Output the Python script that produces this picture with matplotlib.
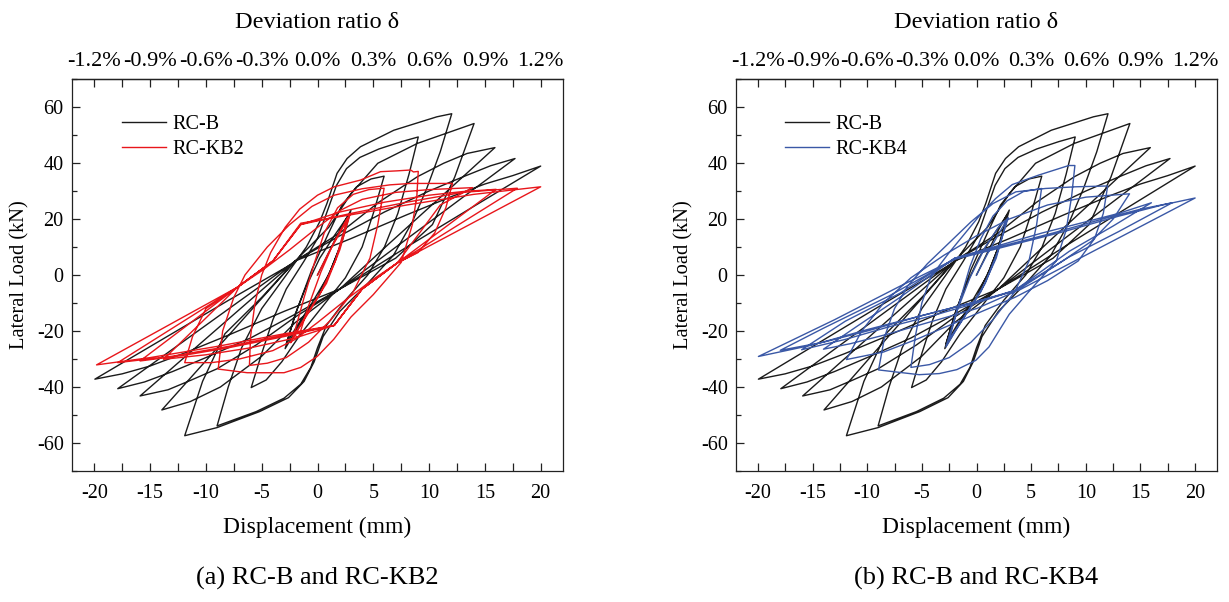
import matplotlib
matplotlib.use('Agg')
import matplotlib.pyplot as plt
from matplotlib.ticker import MultipleLocator

plt.rcParams['font.family'] = ['Liberation Serif', 'DejaVu Serif']
plt.rcParams['axes.unicode_minus'] = False

# ---------------- data (displacement mm, lateral load kN) ----------------
RCB_PTS = [
    (0, 0), (1.0, 8), (2.0, 16), (3.0, 23.2),
    (2.2, 12), (1.2, 2), (0, -8), (-1.5, -17), (-2.9, -26.3),
    (-2.0, -14), (-1.0, -4), (0.2, 6), (1.5, 14), (2.8, 21.5),
    (2.0, 10), (1.0, 0), (-0.5, -10), (-1.8, -18), (-2.8, -24.5),
    (-1.8, -12), (-0.5, 2), (1.0, 15), (2.2, 25), (3.5, 31.5), (4.8, 34.3), (5.97, 35.3),
    (5.0, 22), (4.0, 10), (2.5, -1), (0.5, -11), (-1.5, -21), (-3.2, -31), (-4.6, -37.5), (-5.94, -40.2),
    (-5.0, -28), (-4.0, -16), (-2.8, -5), (-1.2, 5), (0, 13), (0.9, 23), (1.7, 32), (2.6, 38), (3.8, 42),
    (5.5, 45), (7.5, 47.6), (9.03, 49.3),
    (8.2, 36), (7.2, 22), (6.0, 10), (4.5, 0), (2.5, -9), (0.8, -18), (0, -26), (-0.6, -33), (-1.5, -39),
    (-3.0, -44), (-5.5, -48.8), (-9.0, -53.9),
    (-8.0, -40), (-6.8, -26), (-5.0, -12), (-2.8, 0), (-1.0, 10), (0.2, 19), (0.85, 25.6), (1.75, 36.3),
    (2.65, 41.6), (3.85, 45.8), (6.84, 51.7), (10.7, 56.5), (12.03, 57.6),
    (11.0, 44), (9.8, 31), (8.5, 19), (6.8, 7), (4.5, -3), (2.0, -13), (0.5, -22), (-0.3, -31), (-1.2, -38),
    (-2.6, -43.8), (-5.2, -48.8), (-9.0, -54.5), (-11.9, -57.4),
    (-10.3, -38), (-8.3, -21), (-5.0, -8), (-2.0, 5), (1.0, 17), (3.0, 29), (5.4, 39.9), (8.95, 47),
    (11.9, 51.1), (14.03, 54.1),
    (12.3, 35), (10.3, 18), (7.0, 6), (2.0, -5), (-2.0, -17), (-5.0, -29), (-8.7, -40), (-11.4, -45.2), (-13.95, -48.2),
    (-10.0, -30.6), (-6.0, -12.8), (-2.0, 5), (2.0, 15), (5.5, 26), (8.95, 35.1), (11.3, 39.9), (13.4, 43.4), (15.9, 45.5),
    (11.0, 27.7), (6.5, 11.5), (2.0, -5), (-2.0, -15), (-5.5, -25), (-9.0, -33.5), (-11.3, -37.5), (-13.4, -41), (-15.9, -43.2),
    (-11.0, -26.2), (-6.5, -10.6), (-2.0, 5), (2.0, 14), (6.0, 22.5), (10.0, 30), (13.0, 35), (15.5, 39), (17.7, 41.6),
    (12.5, 26.2), (7.0, 9.9), (2.0, -5), (-2.0, -14), (-6.0, -22.5), (-10.0, -29.5), (-13.0, -34.5), (-15.5, -38.2), (-17.9, -40.6),
    (-12.5, -25.1), (-7.0, -9.3), (-2.0, 5), (3.0, 13), (8.0, 21.5), (12.0, 28), (15.0, 32.5), (17.5, 35.5), (20.0, 38.9),
    (14.0, 24.5), (8.0, 10), (2.0, -5), (-3.0, -13), (-8.0, -21.5), (-12.0, -28), (-15.0, -32.5), (-17.5, -35.3), (-19.95, -37.2),
    (-14.0, -23.2), (-8.0, -9.1), (-2.5, 3.5),
]

KB2_PTS = [
    (0, 0), (1, 8), (2, 15), (2.9, 21.5),
    (2.0, 9), (0.8, -3), (-0.8, -13), (-1.8, -19.5), (-2.4, -24.2), (-2.1, -21.5), (-1.7, -22.3),
    (-0.8, -11), (0.3, 1), (1.5, 12), (2.7, 20.5),
    (1.6, 5), (0.2, -7), (-1.2, -16), (-2.2, -22.5),
    (-1.2, -8), (-0.3, 4), (0.6, 15), (1.8, 24), (3.2, 28.8), (4.6, 30.5), (5.97, 31.0),
    (5.4, 18), (4.7, 6), (3.2, -6), (1.2, -16), (-0.8, -24), (-2.8, -29.5), (-4.5, -31.5), (-6.1, -32.3),
    (-6.0, -22), (-5.6, -10), (-5.0, 0), (-4.2, 8), (-2.9, 17), (-1.6, 23.5), (0, 28.5), (1.5, 31.5),
    (3.85, 33.9), (5.65, 36.9), (7.15, 37.2), (8.35, 37.5), (8.6, 36.8), (9.03, 37.0),
    (8.9, 28), (8.5, 18), (7.5, 4.5), (5.0, -7), (3.0, -15), (1.45, -23), (0, -29), (-1.5, -33), (-3.0, -34.9),
    (-6.3, -34.9), (-8.9, -33.6),
    (-8.5, -20), (-7.5, -8), (-6.5, 0), (-4.5, 10), (-2.5, 18), (-0.5, 24.5), (1.5, 28.5), (4.0, 30.8),
    (6.5, 32.2), (8.35, 32.7), (12.1, 32.7),
    (11.5, 24), (10.5, 15), (9.0, 8), (7.15, 4.3), (5.0, -1.5), (2.5, -9), (0, -17), (-2.0, -23), (-4.0, -27),
    (-7.0, -30), (-9.5, -31.3), (-11.9, -31.3),
    (-11.2, -22), (-10.0, -12), (-7.15, -4.3), (-5.0, 1.5), (-2.5, 9), (0, 17), (2.0, 23), (4.0, 27), (7.0, 29.5),
    (10.0, 30.5), (13.9, 31.2),
    (11.0, 25), (7.15, 4.3), (4.0, -5), (1.5, -18), (-2.0, -22.5), (-6.0, -26), (-10.0, -28.5), (-13.8, -30.1),
    (-7.15, -4.3), (-4.0, 5), (-1.5, 18), (2.0, 22.5), (6.0, 26), (10.0, 28.5), (13.0, 29.8), (16.0, 30.6),
    (7.15, 4.3), (4.0, -5), (1.5, -18), (-3.0, -22), (-8.0, -26), (-12.0, -28.7), (-15.9, -30.7),
    (-7.15, -4.3), (-4.0, 5), (-1.5, 18), (3.0, 22), (8.0, 26), (13.0, 29.5), (17.9, 31.0),
    (7.15, 4.3), (4.0, -5), (1.5, -18), (-3.0, -21.5), (-8.0, -25.5), (-13.0, -29), (-17.9, -31.3),
    (-7.15, -4.3), (-4.0, 5), (-1.5, 18.5), (3.0, 21.5), (8.0, 25), (14.0, 28.8), (20.0, 31.5),
    (7.15, 4.3), (4.0, -5), (1.5, -18), (-3.0, -21), (-9.0, -25.5), (-15.0, -29.5), (-19.8, -32.1),
    (-7.15, -4.3), (-4.0, 5),
]

KB4_PTS = [
    (0, 0), (1, 7.5), (2, 14.5), (2.9, 20.5),
    (2.0, 9), (0.8, -3), (-0.8, -13), (-2.0, -20.5), (-2.8, -25.7),
    (-1.8, -13), (-0.6, -1), (0.8, 10), (2.0, 17), (2.8, 20),
    (1.8, 6), (0.4, -6), (-1.2, -15.5), (-2.5, -23),
    (-1.5, -9), (-0.6, 3), (0.4, 13), (1.5, 21), (2.8, 26.5), (4.3, 29.8), (5.95, 30.9),
    (5.5, 18), (4.8, 5), (3.5, -6), (1.5, -16), (-0.5, -24), (-2.5, -29.5), (-4.3, -32), (-6.0, -33),
    (-5.6, -22), (-5.0, -10), (-4.2, -1), (-3.4, 3.4), (-2.5, 8), (-0.98, 15.2), (0.53, 22.4), (1.75, 27.3),
    (3.27, 32.3), (5.7, 35.7), (8.44, 39.1), (9.0, 39.1),
    (8.7, 28), (8.2, 16), (7.3, 5), (5.0, -5), (3.0, -14), (1.14, -25.7), (-0.07, -30.5), (-1.8, -33.8),
    (-3.4, -35.2), (-5.25, -35.6), (-8.96, -33.9),
    (-8.4, -22), (-7.5, -12), (-6.3, -4), (-4.5, 4), (-2.5, 11.5), (-0.5, 19), (1.5, 25.5), (3.6, 29.7),
    (6.3, 30.9), (9.05, 31.5), (12.0, 31.8),
    (11.6, 22), (10.8, 13), (9.3, 5), (6.5, -2), (3.5, -8), (0.5, -13), (-2.5, -18), (-5.5, -23), (-8.5, -27.5), (-11.9, -30.2),
    (-10.5, -20), (-8.5, -10), (-6.0, -1), (-3.0, 7), (0, 14), (3.0, 20), (6.5, 25), (10.0, 27.8), (14.0, 29.0),
    (12.5, 20), (10.5, 12), (7.5, 4), (3.5, -6), (0, -12), (-4.0, -16.5), (-8.0, -21), (-11.5, -24.5), (-14.0, -26.5),
    (-11.0, -18.5), (-7.0, -8), (-2.0, 6), (2.0, 10.5), (6.0, 15), (10.0, 19), (13.0, 22), (16.0, 25.8),
    (12.5, 17.5), (8.5, 8.5), (3.5, -5.5), (0, -10), (-4.0, -14.5), (-8.0, -18.5), (-12.0, -23), (-16.0, -26.7),
    (-12.0, -16.5), (-7.0, -6.5), (-2.0, 6), (2.0, 10), (7.0, 15), (12.0, 20.5), (15.0, 23.5), (17.9, 25.8),
    (13.0, 15.5), (8.5, 6.5), (3.5, -5.5), (0, -9.5), (-5.0, -14.5), (-10.0, -20), (-14.0, -24), (-17.95, -26.9),
    (-14.0, -19), (-8.0, -7.5), (-2.0, 5.6), (2.0, 9.5), (8.0, 15.5), (13.0, 21), (17.0, 25), (20.0, 27.5),
    (15.0, 17.3), (10.0, 7.1), (4.0, -5.2), (0, -9.5), (-5.0, -14.5), (-10.0, -19.5), (-15.0, -25), (-19.95, -29.1),
    (-13.0, -16), (-7.0, -4), (-2.0, 5.6),
]

X_TICKS = [-20, -15, -10, -5, 0, 5, 10, 15, 20]
X_LABELS = ['-20', '-15', '-10', '-5', '0', '5', '10', '15', '20']
Y_TICKS = [-60, -40, -20, 0, 20, 40, 60]
Y_LABELS = ['-60', '-40', '-20', '0', '20', '40', '60']
TOP_LABELS = ['-1.2%', '-0.9%', '-0.6%', '-0.3%', '0.0%', '0.3%', '0.6%', '0.9%', '1.2%']

PANELS = [
    ('RC-KB2', KB2_PTS, '#e8161b', '(a) RC-B and RC-KB2'),
    ('RC-KB4', KB4_PTS, '#3a58a6', '(b) RC-B and RC-KB4'),
]

W, H = 1229, 602
fig = plt.figure(figsize=(W / 100, H / 100), dpi=100)
boxes = [(72, 563, 79, 471), (736, 1217, 79, 471)]


def xy(pts):
    return [p[0] for p in pts], [p[1] for p in pts]


for (name, pts, col, cap), (l, r, t, b) in zip(PANELS, boxes):
    ax = fig.add_axes([l / W, 1 - b / H, (r - l) / W, (b - t) / H])
    bx, by = xy(RCB_PTS)
    ax.plot(bx, by, color='#1b1b1b', lw=1.0, label='RC-B')
    sx, sy = xy(pts)
    ax.plot(sx, sy, color=col, lw=1.0, label=name)
    ax.set_xlim(-22, 22)
    ax.set_ylim(-70, 70)
    ax.set_xticks(X_TICKS, labels=X_LABELS)
    ax.set_yticks(Y_TICKS, labels=Y_LABELS)
    ax.xaxis.set_minor_locator(MultipleLocator(2.5))
    ax.yaxis.set_minor_locator(MultipleLocator(10))
    ax.tick_params(which='both', direction='in', top=False, right=False, color='#222222', width=0.9)
    ax.tick_params(axis='x', which='both', length=5.5, labelsize=14.5, pad=9.5)
    ax.tick_params(axis='y', which='major', length=5.5, labelsize=14.5, pad=6)
    ax.tick_params(axis='y', which='minor', length=3.5)
    for s in ax.spines.values():
        s.set_linewidth(0.9)
        s.set_color('#222222')
    ax.set_xlabel('Displacement (mm)', fontsize=17, labelpad=9.5)
    ax.set_ylabel('Lateral Load (kN)', fontsize=14.8, labelpad=5)

    sec = ax.secondary_xaxis('top')
    sec.set_xticks(X_TICKS, labels=TOP_LABELS)
    sec.xaxis.set_minor_locator(MultipleLocator(2.5))
    sec.tick_params(which='both', direction='in', length=5.5, color='#222222', width=0.9, labelsize=16, pad=6)
    sec.spines['top'].set_linewidth(0.9)
    sec.set_xlabel('Deviation ratio δ', fontsize=17.5, labelpad=17)

    leg = ax.legend(loc='upper left', bbox_to_anchor=(0.085, 0.93), frameon=False, fontsize=14.5,
                    handlelength=2.2, handletextpad=0.3, labelspacing=0.3, borderaxespad=0)

    fig.text((l + r) / 2 / W, 1 - 578 / H, cap, ha='center', va='center', fontsize=19)

fig.savefig('out.png', dpi=100)
